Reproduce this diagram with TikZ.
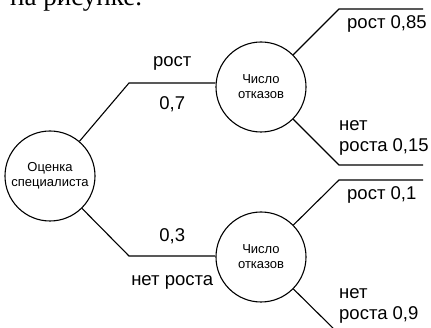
\documentclass[tikz,border=0pt]{standalone}
\usepackage{fontspec}
\setmainfont{Liberation Serif}
\setsansfont{Liberation Sans}
\usepackage{tikz}

\tikzset{
  krug/.style={draw, circle, line width=1.1pt, minimum size=90pt, inner sep=0pt,
    align=center, font=\sffamily\fontsize{13}{15}\selectfont},
  metka/.style={inner sep=0pt, font=\sffamily\fontsize{18.5}{21}\selectfont},
  vetv/.style={line width=1.1pt}
}

\begin{document}
\begin{tikzpicture}[x=1pt, y=-1pt]
  \useasboundingbox (0,0) rectangle (431,328);
  \clip (0,0) rectangle (431,328);

  % обрезанная строка текста над рисунком
  \node[anchor=base west, inner sep=0pt, font=\fontsize{27}{27}\selectfont] (txt) at (10,6) {на рисунке.};

  \node[krug] (ocenka) at (50,176) {Оценка\\специалиста};
  \node[krug] (chislo1) at (261,87) {Число\\отказов};
  \node[krug] (chislo2) at (261,257) {Число\\отказов};

  \coordinate (a1) at (129,83);
  \coordinate (a2) at (129,256);
  \draw[vetv] (ocenka) -- (a1) -- (a1 -| chislo1.west)
    node[metka, midway, above=12pt] (rost) {рост}
    node[metka, midway, below=13pt] (p07) {0,7};
  \draw[vetv] (ocenka) -- (a2) -- (a2 -| chislo2.west)
    node[metka, midway, above=12pt] (p03) {0,3}
    node[metka, midway, below=19pt] (netrosta) {нет роста};

  % ветви справа
  \coordinate (b1) at (339,9);
  \coordinate (b2) at (339,165);
  \coordinate (b3) at (339,180);
  \coordinate (b4) at (339,334);
  \foreach \uzel/\konec in {chislo1/b1, chislo1/b2, chislo2/b3, chislo2/b4}
    \draw[vetv] (\uzel) -- (\konec) -- ++(84,0);

  \node[metka, anchor=base west] (r085) at (347,29) {рост 0,85};
  \node[metka, anchor=base west, align=left] (n015) at (339,152) {нет\\роста 0,15};
  \node[metka, anchor=base west] (r01) at (347,200) {рост 0,1};
  \node[metka, anchor=base west, align=left] (n09) at (339,320) {нет\\роста 0,9};
\end{tikzpicture}
\end{document}
